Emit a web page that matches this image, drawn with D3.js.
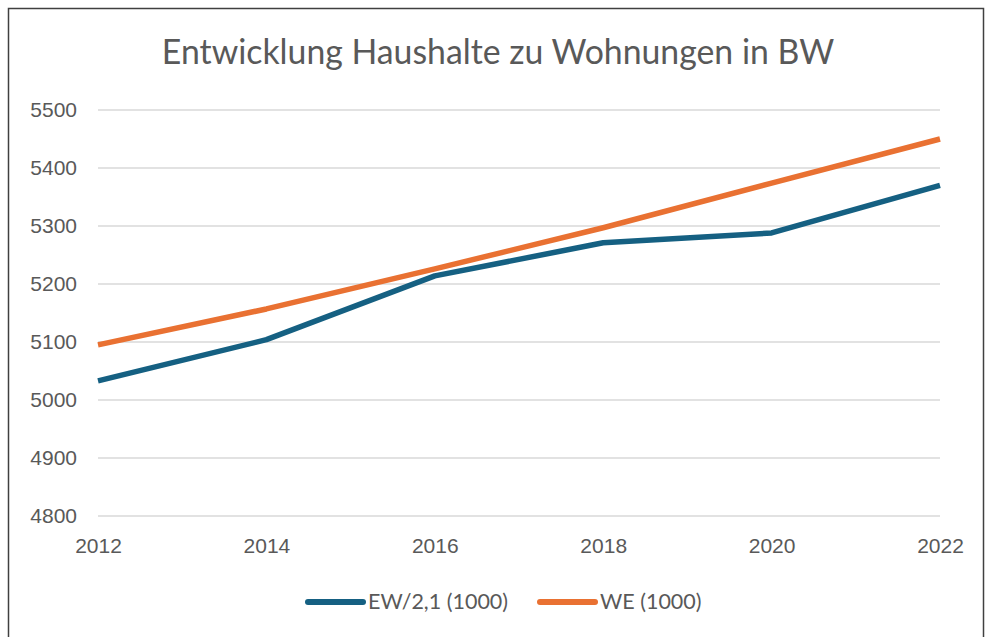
<!DOCTYPE html>
<html>
<head>
<meta charset="utf-8">
<script src="https://cdn.jsdelivr.net/npm/d3@7"></script>
<style>
  body { margin: 0; background: #fff; }
  svg { display: block; }
</style>
</head>
<body>
<svg id="chart"></svg>
<script>
// data
var years = [2012, 2014, 2016, 2018, 2020, 2022];
var ewValues = [5033, 5104, 5214, 5271, 5288, 5370];
var weValues = [5095, 5157, 5226, 5297, 5374, 5450];
var yTicks = [4800, 4900, 5000, 5100, 5200, 5300, 5400, 5500];
var seriesNames = ["EW/2,1 (1000)", "WE (1000)"];
var seriesColors = ["#156082", "#e97132"];

var width = 985, height = 637;
var svg = d3.select("svg#chart").attr("width", width).attr("height", height);

// outer frame
svg.append("rect")
  .attr("x", 8.5).attr("y", 8.5)
  .attr("width", 975).attr("height", 640)
  .style("fill", "none")
  .style("stroke", "#404040")
  .style("stroke-width", 1.5);

svg.append("text")
  .attr("x", 498).attr("y", 64)
  .attr("text-anchor", "middle")
  .style("font-family", "Lato, 'Open Sans', sans-serif")
  .style("font-size", "33.8px")
  .style("fill", "#595959")
  .text("Entwicklung Haushalte zu Wohnungen in BW");

var x = d3.scaleLinear().domain([2012, 2022]).range([98, 940]);
var y = d3.scaleLinear().domain([4800, 5500]).range([516, 110]);

// gridlines
svg.selectAll(".grid")
  .data(yTicks)
  .enter()
  .append("line")
  .classed("grid", true)
  .attr("x1", x(2012)).attr("x2", x(2022))
  .attr("y1", function(d) {return y(d);})
  .attr("y2", function(d) {return y(d);})
  .style("stroke", "#d9d9d9")
  .style("stroke-width", 1.5);

var yAxis = d3.axisLeft(y).tickValues(yTicks).tickFormat(d3.format("d")).tickSize(0).tickPadding(21);
var gy = svg.append("g").attr("transform", "translate(" + x(2012) + ",0)").call(yAxis);
gy.select(".domain").remove();

var xAxis = d3.axisBottom(x).tickValues(years).tickFormat(d3.format("d")).tickSize(0).tickPadding(22);
var gx = svg.append("g").attr("transform", "translate(0," + y(4800) + ")").call(xAxis);
gx.select(".domain").remove();

svg.selectAll(".tick text")
  .style("font-family", "'Liberation Sans', Arial, sans-serif")
  .style("font-size", "21px")
  .style("fill", "#595959");

var line = d3.line()
  .x(function(d) {return x(d[0]);})
  .y(function(d) {return y(d[1]);});

var series = [ewValues, weValues];
series.forEach(function(vals, i) {
  svg.append("path")
    .datum(years.map(function(yr, j) {return [yr, vals[j]];}))
    .attr("d", line)
    .style("fill", "none")
    .style("stroke", seriesColors[i])
    .style("stroke-width", 5.5)
    .style("stroke-linejoin", "round")
    .style("stroke-linecap", "butt");
});

// legend
var legendX = [308, 540];
seriesNames.forEach(function(name, i) {
  svg.append("line")
    .attr("x1", legendX[i]).attr("x2", legendX[i] + 55)
    .attr("y1", 602).attr("y2", 602)
    .style("stroke", seriesColors[i])
    .style("stroke-width", 6)
    .style("stroke-linecap", "round");
  svg.append("text")
    .attr("x", legendX[i] + 60).attr("y", 609)
    .style("font-family", "Lato, 'Open Sans', sans-serif")
    .style("font-size", "21.5px")
    .style("fill", "#595959")
    .text(name);
});
</script>
</body>
</html>
